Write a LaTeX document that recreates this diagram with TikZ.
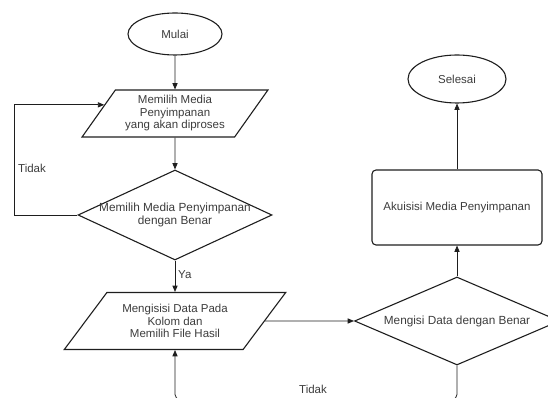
\documentclass[tikz,border=0pt]{standalone}
\usepackage{fontspec}
\setmainfont{Liberation Sans}
\usepackage{tikz}
\usetikzlibrary{
    arrows.meta,
    positioning,
    calc,
    shapes.geometric
}
\definecolor{InkGray}{RGB}{30,30,30}
\definecolor{TextGray}{RGB}{60,60,60}
\tikzset{
  terminal/.style = {draw, ellipse, line width=1.1pt, InkGray, text=TextGray,
                     inner sep=0pt, font=\fontsize{11.5}{13}\selectfont},
  io/.style       = {draw, trapezium, trapezium stretches=true, line width=1.1pt,
                     InkGray, text=TextGray, align=center, inner sep=1pt,
                     font=\fontsize{11.5}{12.5}\selectfont},
  decision/.style = {draw, diamond, aspect=2.2, line width=1.1pt, InkGray,
                     text=TextGray, align=center, inner sep=-3pt,
                     font=\fontsize{11.8}{13}\selectfont},
  process/.style  = {draw, rounded corners=4pt, line width=1.1pt, InkGray,
                     text=TextGray, align=center, font=\fontsize{11.5}{13}\selectfont},
  lbl/.style      = {text=TextGray, font=\fontsize{11.5}{13}\selectfont, inner sep=0pt},
  arr/.style      = {-{Triangle[length=2.2mm,width=1.8mm]}, line width=0.8pt, InkGray}
}

\begin{document}
\begin{tikzpicture}[x=1pt, y=1pt]
\clip (0,0) rectangle (548,398);

% left column
\node[terminal, minimum width=94pt, minimum height=42pt] (mulai) at (175,364) {Mulai};
\node[io, trapezium left angle=53, trapezium right angle=127,
      minimum width=186pt, minimum height=47pt] (pilih) at (175,284.5)
      {Memilih Media\\Penyimpanan\\yang akan diproses};
\node[decision, minimum width=194pt, minimum height=90pt] (cek1) at (175,183)
      {Memilih Media Penyimpanan\\dengan Benar};
\node[io, trapezium left angle=46.5, trapezium right angle=133.5,
      minimum width=222pt, minimum height=57pt] (isi) at (175,77)
      {Mengisisi Data Pada\\Kolom dan\\Memilih File Hasil};

% right column
\node[decision, minimum width=205pt, minimum height=88pt] (cek2) at (457,77)
      {Mengisi Data dengan Benar};
\node[process, minimum width=170pt, minimum height=75pt] (akuisisi) at (457,190.5)
      {Akuisisi Media Penyimpanan};
\node[terminal, minimum width=98pt, minimum height=48pt] (selesai) at (457,319) {Selesai};

% helper points
\coordinate (masuk) at ($(pilih.top left corner)!0.32!(pilih.bottom left corner)$);
\coordinate (isiatas) at (isi.center |- isi.top side);
\coordinate (isibawah) at (isi.center |- isi.bottom side);
\coordinate (kiri) at (14,0);
\coordinate (bawah) at (300,-1.5);

% connectors
\draw[arr] (mulai) -- (pilih);
\draw[arr] (pilih) -- (cek1);
\draw[arr] (cek1.west) -| (kiri |- masuk) -- (masuk);
\draw[arr] (cek1.south) -- (isiatas);
\draw[arr] (isi.east) -- (cek2.west);
\draw[arr] (cek2.north) -- (akuisisi.south);
\draw[arr] (akuisisi.north) -- (selesai.south);
\draw[arr, rounded corners=5pt] (cek2.south) |- (bawah) -| (isibawah);

% labels
\node[lbl] (tidak1) at (32,230) {Tidak};
\node[lbl, anchor=west] (ya) at (178,123) {Ya};
\node[lbl] (tidak2) at (313,9) {Tidak};
\end{tikzpicture}
\end{document}
